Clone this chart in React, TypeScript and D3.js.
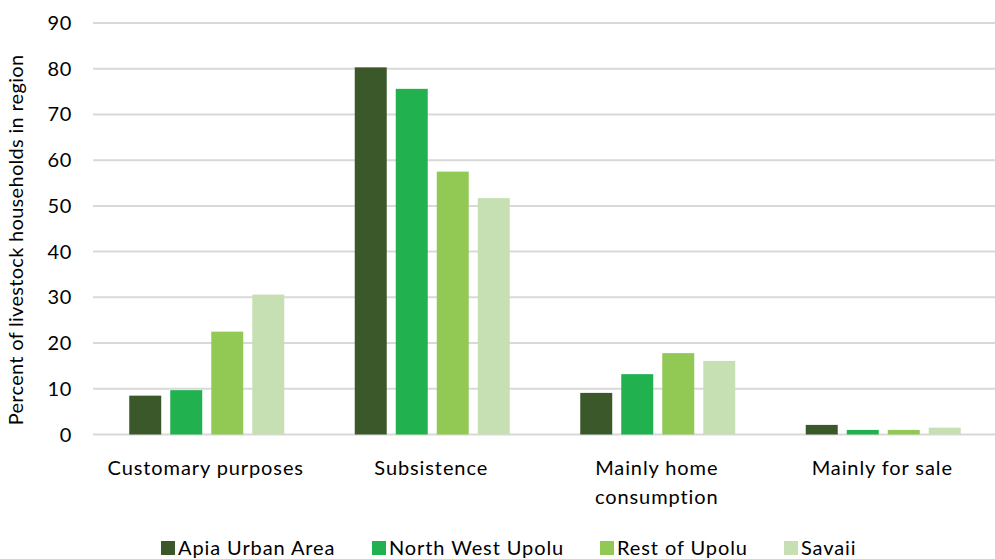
import React from "react";
import * as d3 from "d3";

const categories = ["Customary purposes", "Subsistence", "Mainly home consumption", "Mainly for sale"];
const categoryLines = [["Customary purposes"], ["Subsistence"], ["Mainly home", "consumption"], ["Mainly for sale"]];
const seriesNames = ["Apia Urban Area", "North West Upolu", "Rest of Upolu", "Savaii"];
const apia = [8.5, 80.3, 9.1, 2.1];
const nwUpolu = [9.7, 75.6, 13.2, 1.0];
const restUpolu = [22.5, 57.5, 17.8, 1.0];
const savaii = [30.6, 51.7, 16.1, 1.5];
const yTicks = [0, 10, 20, 30, 40, 50, 60, 70, 80, 90];
const colors = ["#3b582a", "#21b14f", "#92c954", "#c6e0b4"];

const W = 995, H = 559;
const FONT = "Lato, 'Open Sans', sans-serif";

export default function App() {
  const series = [apia, nwUpolu, restUpolu, savaii];
  const left = 93, right = 995, top = 23, bottom = 434.5;
  const x = d3.scaleBand<string>().domain(categories).range([left, right]).paddingInner(0).paddingOuter(0);
  const y = d3.scaleLinear().domain([0, 90]).range([bottom, top]);
  const bw = x.bandwidth();
  const groupW = 155;
  const inner = d3.scaleBand<string>().domain(seriesNames).range([(bw - groupW) / 2 + 1, (bw + groupW) / 2 + 1]).paddingInner(0.22);

  const legendX = [161, 372, 600, 784];

  return (
    <svg width={W} height={H} style={{ position: "absolute", left: 0, top: 0, background: "#fff" }}>
      {yTicks.map((t) => (
        <g key={t}>
          <line x1={left} x2={right} y1={y(t)} y2={y(t)} stroke="#d9d9d9" strokeWidth={2} />
          <text x={72} y={y(t)} dy="0.35em" textAnchor="end" fontFamily={FONT} fontSize={20} letterSpacing={0.6} fill="#000">{t}</text>
        </g>
      ))}
      {categories.map((c, ci) => (
        <g key={c}>
          {series.map((s, si) => (
            <rect key={si}
              x={(x(c) as number) + (inner(seriesNames[si]) as number)}
              y={y(s[ci])}
              width={inner.bandwidth()}
              height={bottom - y(s[ci])}
              fill={colors[si]} />
          ))}
          {categoryLines[ci].map((ln, li) => (
            <text key={li} x={(x(c) as number) + bw / 2} y={475 + li * 29} textAnchor="middle"
              fontFamily={FONT} fontSize={20} letterSpacing={0.9} fill="#000">{ln}</text>
          ))}
        </g>
      ))}
      <text transform={`translate(23, 240) rotate(-90)`} textAnchor="middle"
        fontFamily={FONT} fontSize={20} letterSpacing={0.3} fill="#000">Percent of livestock households in region</text>
      {seriesNames.map((n, i) => (
        <g key={n}>
          <rect x={legendX[i]} y={541} width={14} height={14} fill={colors[i]} />
          <text x={legendX[i] + 17} y={555} fontFamily={FONT} fontSize={20} letterSpacing={0.9} fill="#000">{n}</text>
        </g>
      ))}
    </svg>
  );
}
